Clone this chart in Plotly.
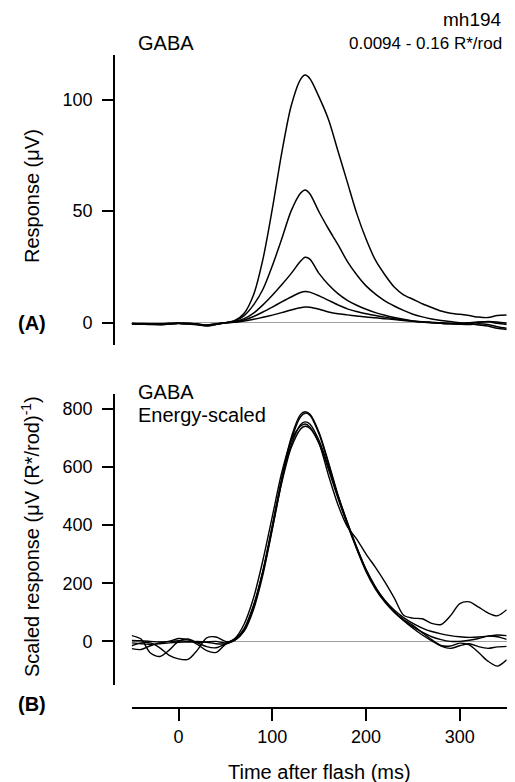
import plotly.graph_objects as go

# time grid (ms)
t = [-50, -40, -30, -20, -10, 0, 10, 20, 30, 40, 50, 60, 70, 80, 90, 100, 110, 120, 130, 135,
     140, 150, 160, 170, 180, 190, 200, 210, 220, 230, 240, 250, 260, 270, 280, 290, 300, 310, 320, 330, 340, 350]

# Panel A: responses (uV)
a1 = [-0.5, -0.6, -0.8, -0.6, -0.3, -0.2, -0.4, -0.7, -1.2, -0.6, 0, 1, 4.2, 12.5, 28.5, 51, 76, 97, 109, 111,
      109.5, 101, 91, 77, 63, 49, 37.5, 28, 21.5, 16, 12.5, 10.5, 8.5, 6.8, 5.2, 4.2, 3.8, 3.2, 2.5, 2.3, 3.2, 3.4]
a2 = [-0.3, -0.5, -0.7, -0.9, -0.5, -0.2, -0.5, -0.9, -1.5, -0.8, 0, 0.8, 3.2, 8, 15, 25.5, 37.5, 50, 58, 59.5,
      57.8, 49.5, 42, 35, 27.5, 21.5, 16.5, 12.8, 9.8, 7.5, 5.5, 3.8, 2.6, 1.7, 1, 0.5, 0, -0.5, -1, -1.5, -2.5, -3]
a3 = [-0.6, -0.4, -0.5, -0.8, -0.6, -0.3, -0.3, -0.6, -1.0, -0.5, 0, 0.5, 1.8, 4.3, 8, 12.3, 17, 22, 27.5, 29.3,
      28.5, 22, 17, 13, 10, 7.8, 6, 4.5, 3.3, 2.3, 1.5, 0.8, 0.3, 0, -0.3, -0.5, -0.7, -0.8, -0.5, -0.8, -1.8, -2.5]
a4 = [-0.4, -0.7, -0.6, -0.5, -0.4, -0.4, -0.6, -0.8, -1.3, -0.7, 0, 0.3, 1.2, 2.8, 4.8, 7, 9.3, 11.5, 13.5, 14,
      13.7, 12, 10, 8, 6.2, 5, 4, 3.2, 2.5, 1.8, 1.2, 0.7, 0.3, 0, -0.3, -0.5, -0.3, 0, 0.3, 0.4, -0.3, -0.8]
a5 = [-0.5, -0.5, -0.6, -0.7, -0.5, -0.3, -0.4, -0.6, -1.1, -0.6, 0, 0.2, 0.7, 1.5, 2.4, 3.4, 4.5, 5.7, 6.7, 7,
      6.9, 6, 4.8, 4, 3.5, 3.0, 2.5, 2.2, 1.8, 1.4, 1.0, 0.7, 0.4, 0.2, 0, -0.3, -0.5, -0.2, 0.2, 0.5, 0.3, -0.2]

# Panel B: energy-scaled responses (uV (R*/rod)^-1)
b1 = [20, 8, -40, -52, -30, 0, 8, -5, -18, -22, -8, 10, 60, 150, 280, 430, 580, 690, 740, 748,
      738, 680, 570, 470, 395, 352, 300, 255, 205, 150, 90, 80, 78, 62, 58, 88, 130, 136, 118, 98, 88, 109]
b2 = [-15, -5, -5, -22, -48, -60, -62, -30, 12, 15, 0, 5, 40, 120, 240, 395, 560, 700, 780, 790,
      782, 718, 615, 505, 410, 322, 245, 185, 142, 108, 82, 62, 46, 34, 26, 20, 16, 14, 15, 18, 22, 20]
b3 = [-25, -28, -15, -5, 0, 10, 5, -10, -32, -38, -10, 3, 35, 110, 230, 385, 550, 690, 772, 785,
      778, 712, 610, 500, 405, 318, 240, 180, 135, 100, 72, 50, 32, 16, 6, 0, 0, 4, 10, 18, 16, 7]
b4 = [3, 2, 0, -2, 0, 2, 0, -3, -2, 0, -5, 8, 45, 125, 245, 400, 555, 675, 745, 755,
      748, 690, 600, 500, 410, 325, 248, 188, 140, 102, 72, 45, 22, 2, -16, -24, -15, -8, -18, -24, -19, -17]
b5 = [-5, -8, -10, -8, -5, -3, -2, 0, -3, -8, -8, 6, 40, 118, 238, 390, 545, 665, 730, 740,
      733, 680, 590, 492, 402, 320, 245, 185, 138, 102, 75, 55, 30, 6, -14, -16, -6, -12, -38, -68, -85, -63]

xticks = [0, 100, 200, 300]
yticks_a = [0, 50, 100]
yticks_b = [0, 200, 400, 600, 800]

W, H = 515, 782
FONT = "Liberation Sans, Arial, Helvetica, sans-serif"


def fx(px):
    return px / W


def fy(py):
    return 1 - py / H


fig = go.Figure()
line = dict(color="black", width=1.5, shape="spline", smoothing=0.8)
for s in [a1, a2, a3, a4, a5]:
    fig.add_trace(go.Scatter(x=t, y=s, mode="lines", line=line, xaxis="x", yaxis="y",
                             showlegend=False, hoverinfo="skip"))
lineb = dict(color="black", width=1.4, shape="spline", smoothing=0.8)
for s in [b1, b2, b3, b4, b5]:
    fig.add_trace(go.Scatter(x=t, y=s, mode="lines", line=lineb, xaxis="x2", yaxis="y2",
                             showlegend=False, hoverinfo="skip"))

xdom = [fx(131.7), fx(506.7)]
yax_common = dict(anchor="free", position=fx(114), showline=True, linecolor="black", linewidth=1.8,
                  ticks="outside", ticklen=11, tickwidth=1.5, tickcolor="black", ticklabelstandoff=6,
                  showgrid=False, zeroline=True, zerolinecolor="#a0a0a0", zerolinewidth=1,
                  tickfont=dict(family=FONT, size=18, color="black"))

fig.update_layout(
    width=W, height=H, margin=dict(l=0, r=0, t=0, b=0),
    paper_bgcolor="white", plot_bgcolor="white",
    font=dict(family=FONT, color="black"),
    xaxis=dict(domain=xdom, range=[-50, 350], visible=False, anchor="y", showgrid=False, zeroline=False),
    yaxis=dict(domain=[fy(345), fy(55)], range=[-10, 120], tickvals=yticks_a, **yax_common),
    xaxis2=dict(domain=xdom, range=[-50, 350], anchor="free", position=fy(708), showline=True,
                linecolor="black", linewidth=1.8, ticks="outside", ticklen=12, tickwidth=1.5,
                tickcolor="black", showgrid=False, zeroline=False, tickvals=xticks,
                tickfont=dict(family=FONT, size=18, color="black")),
    yaxis2=dict(domain=[fy(685), fy(394.3)], range=[-150, 850], tickvals=yticks_b, **yax_common),
)

ann = []


def text(s, px, py, xanchor="left", yanchor="middle", size=20, angle=0, bold=False):
    if bold:
        s = "<b>" + s + "</b>"
    ann.append(dict(text=s, x=fx(px), y=fy(py), xref="paper", yref="paper", showarrow=False,
                    xanchor=xanchor, yanchor=yanchor, textangle=angle,
                    font=dict(family=FONT, size=size, color="black")))


text("mh194", 504, 20, xanchor="right", size=19)
text("0.0094 - 0.16 R*/rod", 504, 43.5, xanchor="right", size=17)
text("GABA", 136, 43, size=20)
text("(A)", 16, 323, bold=True, size=20)
text("(B)", 16, 704, bold=True, size=20)
text("GABA", 136, 392, size=20)
text("Energy-scaled", 136, 414.5, size=20)
text("Response (μV)", 32, 196, xanchor="center", angle=-90, size=20)
text("Scaled response (μV (R*/rod)<sup>-1</sup>)", 30, 537, xanchor="center", angle=-90, size=20)
text("Time after flash (ms)", 319, 772, xanchor="center", size=20)
fig.update_layout(annotations=ann)

fig.write_html("out.html", config={"displayModeBar": False},
               post_script="document.body.style.margin='0';document.body.style.overflow='hidden';")
